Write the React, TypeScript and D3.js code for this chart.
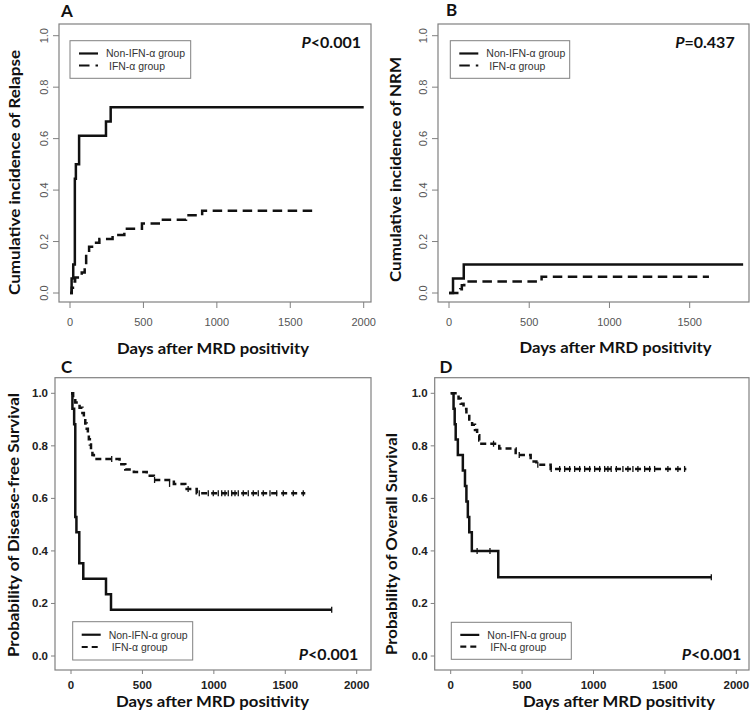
import React from 'react';
import * as d3 from 'd3';

type Pt = [number, number];

// ---------- data ----------
const yTickValues = [0, 0.2, 0.4, 0.6, 0.8, 1.0];
const xTicksFull = [0, 500, 1000, 1500, 2000];
const xTicksNRM = [0, 500, 1000, 1500];

const legendLabels = ['Non-IFN-α group', 'IFN-α group'];
const panelLetters = ['A', 'B', 'C', 'D'];
const yTitles = [
  'Cumulative incidence of Relapse',
  'Cumulative incidence of NRM',
  'Probability of Disease-free Survival',
  'Probability of Overall Survival',
];
const xTitle = 'Days after MRD positivity';
const pValues = ['<0.001', '=0.437', '<0.001', '<0.001'];

const relapseNonIFN: Pt[] = [
  [0, 0], [11, 0.056], [22, 0.111], [33, 0.444], [40, 0.5], [62, 0.611],
  [245, 0.667], [277, 0.722], [2000, 0.722],
];
const relapseIFN: Pt[] = [
  [0, 0], [12, 0.02], [20, 0.045], [35, 0.06], [80, 0.08], [100, 0.1],
  [110, 0.15], [130, 0.18], [150, 0.195], [200, 0.21], [290, 0.225],
  [370, 0.25], [490, 0.27], [620, 0.285], [790, 0.302], [900, 0.32], [1650, 0.32],
];
const nrmNonIFN: Pt[] = [[0, 0], [25, 0.056], [92, 0.111], [1833, 0.111]];
const nrmIFN: Pt[] = [
  [0, 0], [70, 0.015], [80, 0.03], [95, 0.045], [577, 0.063], [1620, 0.063],
];
const dfsNonIFN: Pt[] = [
  [0, 1], [10, 0.941], [22, 0.882], [30, 0.529], [38, 0.471], [58, 0.353],
  [86, 0.294], [245, 0.235], [280, 0.176], [1825, 0.176],
];
const dfsNonIFNCensor: Pt[] = [[1825, 0.176]];
const dfsIFN: Pt[] = [
  [0, 1], [15, 0.98], [30, 0.965], [60, 0.945], [80, 0.925], [90, 0.905],
  [100, 0.885], [110, 0.865], [118, 0.845], [125, 0.825], [132, 0.805],
  [140, 0.785], [150, 0.765], [160, 0.75], [340, 0.73], [380, 0.71],
  [440, 0.7], [530, 0.686], [580, 0.67], [720, 0.655], [800, 0.636],
  [880, 0.62], [1640, 0.62],
];
const dfsIFNCensor: Pt[] = [
  [285, 0.75], [585, 0.67], [690, 0.655], [820, 0.636],
  [898, 0.62], [961, 0.62], [996, 0.62], [1031, 0.62], [1055, 0.62], [1078, 0.62],
  [1101, 0.62], [1125, 0.62], [1148, 0.62], [1171, 0.62], [1206, 0.62],
  [1241, 0.62], [1276, 0.62], [1311, 0.62], [1346, 0.62], [1393, 0.62],
  [1440, 0.62], [1486, 0.62], [1556, 0.62], [1626, 0.62],
];
const osNonIFN: Pt[] = [
  [0, 1], [20, 0.941], [28, 0.882], [35, 0.824], [50, 0.765], [85, 0.706],
  [100, 0.647], [110, 0.588], [120, 0.529], [130, 0.471], [148, 0.4],
  [333, 0.3], [1825, 0.3],
];
const osNonIFNCensor: Pt[] = [[185, 0.4], [275, 0.4], [1825, 0.3]];
const osIFN: Pt[] = [
  [0, 1], [55, 0.98], [70, 0.96], [90, 0.94], [110, 0.92], [130, 0.9],
  [150, 0.88], [170, 0.86], [185, 0.84], [200, 0.82], [215, 0.808],
  [340, 0.79], [455, 0.765], [560, 0.74], [600, 0.728], [700, 0.712], [1650, 0.712],
];
const osIFNCensor: Pt[] = [
  [300, 0.808], [480, 0.765], [610, 0.728],
  [704, 0.712], [763, 0.712], [798, 0.712], [833, 0.712], [868, 0.712],
  [903, 0.712], [938, 0.712], [973, 0.712], [1008, 0.712], [1043, 0.712],
  [1078, 0.712], [1101, 0.712], [1124, 0.712], [1160, 0.712], [1206, 0.712],
  [1241, 0.712], [1276, 0.712], [1311, 0.712], [1358, 0.712], [1393, 0.712],
  [1428, 0.712], [1521, 0.712], [1591, 0.712], [1638, 0.712],
];

// ---------- drawing ----------
const TITLE_FONT = 'Lato, "Open Sans", sans-serif';
const TICK_FONT = '"Liberation Sans", Arial, sans-serif';

type PanelProps = {
  idx: number;
  rStyle: boolean;
  frame: [number, number, number, number];
  xMap: [number, number, number, number];
  yMap: [number, number];
  xTicks: number[];
  solid: Pt[];
  dashed: Pt[];
  solidCensor?: Pt[];
  dashedCensor?: Pt[];
  legend: [number, number, number, number];
  pos: {
    letter: [number, number];
    yTitle: [number, number, number];
    xTitle: [number, number, number];
    p: [number, number];
  };
};

function Panel(props: PanelProps) {
  const { idx, rStyle, frame, xMap, yMap, xTicks, solid, dashed, legend, pos } = props;
  const [fx0, fy0, fx1, fy1] = frame;
  const x = d3.scaleLinear().domain([xMap[0], xMap[2]]).range([xMap[1], xMap[3]]);
  const y = d3.scaleLinear().domain([0, 1]).range([yMap[0], yMap[1]]);
  const line = d3
    .line<Pt>()
    .x((d) => x(d[0]))
    .y((d) => y(d[1]))
    .curve(d3.curveStepAfter);
  const dash = rStyle ? '9.5,5.5' : '6,4';
  const frameColor = '#808080';
  const tickColor = rStyle ? '#555' : '#222';
  const [lx0, ly0, lx1, ly1] = legend;
  const lh = ly1 - ly0;
  const l1y = ly0 + lh * 0.34;
  const l2y = ly0 + lh * 0.66;

  return (
    <g>
      <rect x={fx0} y={fy0} width={fx1 - fx0} height={fy1 - fy0} fill="none" stroke={frameColor} strokeWidth={1.2} />
      {xTicks.map((t) => (
        <g key={'x' + t}>
          <line x1={x(t)} x2={x(t)} y1={fy1} y2={fy1 + (rStyle ? 6 : 4)} stroke={frameColor} strokeWidth={1} />
          <text
            x={x(t)}
            y={fy1 + (rStyle ? 24 : 19)}
            textAnchor="middle"
            fontFamily={TICK_FONT}
            fontSize={rStyle ? 11 : 11.5}
            fontWeight={rStyle ? 400 : 700}
            fill={tickColor}
          >
            {t}
          </text>
        </g>
      ))}
      {yTickValues.map((t) => (
        <g key={'y' + t}>
          <line x1={fx0} x2={fx0 - (rStyle ? 6 : 4)} y1={y(t)} y2={y(t)} stroke={frameColor} strokeWidth={1} />
          {rStyle ? (
            <text
              transform={`translate(${fx0 - 11},${y(t)}) rotate(-90)`}
              textAnchor="middle"
              fontFamily={TICK_FONT}
              fontSize={11}
              fill={tickColor}
            >
              {t.toFixed(1)}
            </text>
          ) : (
            <text
              x={fx0 - 7}
              y={y(t) + 4}
              textAnchor="end"
              fontFamily={TICK_FONT}
              fontSize={11.5}
              fontWeight={700}
              fill={tickColor}
            >
              {t.toFixed(1)}
            </text>
          )}
        </g>
      ))}
      <path d={line(dashed) || ''} fill="none" stroke="#111" strokeWidth={2.5} strokeDasharray={dash} />
      <path d={line(solid) || ''} fill="none" stroke="#111" strokeWidth={2.5} />
      {(props.solidCensor || []).map((c, i) => (
        <line key={'sc' + i} x1={x(c[0])} x2={x(c[0])} y1={y(c[1]) - 3} y2={y(c[1]) + 3} stroke="#111" strokeWidth={1.3} />
      ))}
      {(props.dashedCensor || []).map((c, i) => (
        <line key={'dc' + i} x1={x(c[0])} x2={x(c[0])} y1={y(c[1]) - 3} y2={y(c[1]) + 3} stroke="#111" strokeWidth={1.3} />
      ))}
      <rect x={lx0} y={ly0} width={lx1 - lx0} height={lh} fill="white" stroke={frameColor} strokeWidth={1} />
      <line x1={lx0 + 9} x2={lx0 + 28} y1={l1y} y2={l1y} stroke="#111" strokeWidth={2.2} />
      <line x1={lx0 + 9} x2={lx0 + 28} y1={l2y} y2={l2y} stroke="#111" strokeWidth={2.2} strokeDasharray={rStyle ? '10.5,6' : '6,4'} />
      <text x={lx0 + 36} y={l1y + 4} fontFamily={TICK_FONT} fontSize={11} fill="#333" textLength={79} lengthAdjust="spacingAndGlyphs">
        {legendLabels[0]}
      </text>
      <text x={lx0 + 39} y={l2y + 4} fontFamily={TICK_FONT} fontSize={11} fill="#333" textLength={56} lengthAdjust="spacingAndGlyphs">
        {legendLabels[1]}
      </text>
      <text x={pos.p[0]} y={pos.p[1]} textAnchor="end" fontFamily={TITLE_FONT} fontSize={16} fontWeight={700} fill="#111">
        <tspan fontStyle="italic">P</tspan>
        {pValues[idx]}
      </text>
      <text x={pos.letter[0]} y={pos.letter[1]} fontFamily={TITLE_FONT} fontSize={17} fontWeight={700} fill="#111">
        {panelLetters[idx]}
      </text>
      <text
        transform={`translate(${pos.yTitle[0]},${pos.yTitle[1]}) rotate(-90)`}
        textAnchor="middle"
        fontFamily={TITLE_FONT}
        fontSize={15.5}
        fontWeight={700}
        fill="#111"
        textLength={pos.yTitle[2]}
        lengthAdjust="spacingAndGlyphs"
      >
        {yTitles[idx]}
      </text>
      <text
        x={pos.xTitle[0]}
        y={pos.xTitle[1]}
        textAnchor="middle"
        fontFamily={TITLE_FONT}
        fontSize={15.5}
        fontWeight={700}
        fill="#111"
        textLength={pos.xTitle[2]}
        lengthAdjust="spacingAndGlyphs"
      >
        {xTitle}
      </text>
    </g>
  );
}

export default function App() {
  return (
    <svg
      width={755}
      height={720}
      style={{ position: 'absolute', left: 0, top: 0, background: 'white' }}
    >
      <rect width={755} height={720} fill="white" />
      <Panel
        idx={0}
        rStyle
        frame={[59, 24, 371, 302]}
        xMap={[0, 70, 2000, 363.7]}
        yMap={[293, 35.7]}
        xTicks={xTicksFull}
        solid={relapseNonIFN}
        dashed={relapseIFN}
        legend={[70, 40.7, 190.7, 78.3]}
        pos={{ letter: [61, 17], yTitle: [20, 172.5, 245], xTitle: [213, 354, 192], p: [361, 48] }}
      />
      <Panel
        idx={1}
        rStyle
        frame={[438, 24, 749, 302]}
        xMap={[0, 449, 1500, 689.7]}
        yMap={[293, 35.7]}
        xTicks={xTicksNRM}
        solid={nrmNonIFN}
        dashed={nrmIFN}
        legend={[450.3, 40.7, 569.7, 78.3]}
        pos={{ letter: [446, 16], yTitle: [401, 169.5, 225], xTitle: [615.5, 353, 192], p: [734.7, 48] }}
      />
      <Panel
        idx={2}
        rStyle={false}
        frame={[55, 377.7, 371, 670]}
        xMap={[0, 71, 2000, 356.7]}
        yMap={[656, 393.3]}
        xTicks={xTicksFull}
        solid={dfsNonIFN}
        dashed={dfsIFN}
        solidCensor={dfsNonIFNCensor}
        dashedCensor={dfsIFNCensor}
        legend={[72.7, 621.7, 192.7, 660]}
        pos={{ letter: [61, 373], yTitle: [19, 525, 264], xTitle: [212.5, 707, 193], p: [358.3, 660] }}
      />
      <Panel
        idx={3}
        rStyle={false}
        frame={[434.7, 377.7, 749, 670]}
        xMap={[0, 450.7, 2000, 736.3]}
        yMap={[656, 393.3]}
        xTicks={xTicksFull}
        solid={osNonIFN}
        dashed={osIFN}
        solidCensor={osNonIFNCensor}
        dashedCensor={osIFNCensor}
        legend={[451.3, 622.3, 571.3, 659.3]}
        pos={{ letter: [439.5, 373], yTitle: [397, 544, 222], xTitle: [619, 707, 192], p: [741.3, 660] }}
      />
    </svg>
  );
}
